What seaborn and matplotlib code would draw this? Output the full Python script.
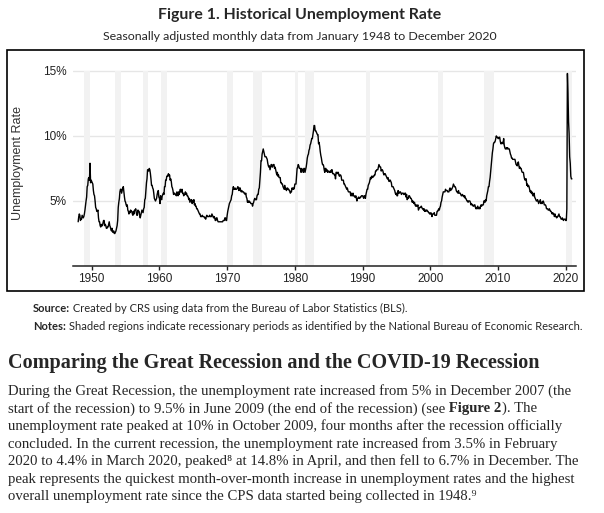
import pandas as pd
import seaborn as sns
import matplotlib.pyplot as plt
from matplotlib.patches import Rectangle

# Monthly unemployment rate (%), seasonally adjusted, Jan 1948 - Dec 2020
rate = [
    3.4, 3.8, 4.0, 3.9, 3.5, 3.6, 3.6, 3.9, 3.8, 3.7, 3.8, 4.0,   # 1948
    4.3, 4.7, 5.0, 5.3, 6.1, 6.2, 6.7, 6.8, 6.6, 7.9, 6.4, 6.6,   # 1949
    6.5, 6.4, 6.3, 5.8, 5.5, 5.4, 5.0, 4.5, 4.4, 4.2, 4.2, 4.3,   # 1950
    3.7, 3.4, 3.4, 3.1, 3.0, 3.2, 3.1, 3.1, 3.3, 3.5, 3.5, 3.1,   # 1951
    3.2, 3.1, 2.9, 2.9, 3.0, 3.0, 3.2, 3.4, 3.1, 3.0, 2.8, 2.7,   # 1952
    2.9, 2.6, 2.6, 2.7, 2.5, 2.5, 2.6, 2.7, 2.9, 3.1, 3.5, 4.5,   # 1953
    4.9, 5.2, 5.7, 5.9, 5.9, 5.6, 5.8, 6.0, 6.1, 5.7, 5.3, 5.0,   # 1954
    4.9, 4.7, 4.6, 4.7, 4.3, 4.2, 4.0, 4.2, 4.1, 4.3, 4.2, 4.2,   # 1955
    4.0, 3.9, 4.2, 4.0, 4.3, 4.3, 4.4, 4.1, 3.9, 3.9, 4.3, 4.2,   # 1956
    4.2, 3.9, 3.7, 3.9, 4.1, 4.3, 4.2, 4.1, 4.4, 4.5, 5.1, 5.2,   # 1957
    5.8, 6.4, 6.7, 7.4, 7.4, 7.3, 7.5, 7.4, 7.1, 6.7, 6.2, 6.2,   # 1958
    6.0, 5.9, 5.6, 5.2, 5.1, 5.0, 5.1, 5.2, 5.5, 5.7, 5.8, 5.3,   # 1959
    5.2, 4.8, 5.4, 5.2, 5.1, 5.4, 5.5, 5.6, 5.5, 6.1, 6.1, 6.6,   # 1960
    6.6, 6.9, 6.9, 7.0, 7.1, 6.9, 7.0, 6.6, 6.7, 6.5, 6.1, 6.0,   # 1961
    5.8, 5.5, 5.6, 5.6, 5.5, 5.5, 5.4, 5.7, 5.6, 5.4, 5.7, 5.5,   # 1962
    5.7, 5.9, 5.7, 5.7, 5.9, 5.6, 5.6, 5.4, 5.5, 5.5, 5.7, 5.5,   # 1963
    5.6, 5.4, 5.4, 5.3, 5.1, 5.2, 4.9, 5.0, 5.1, 5.1, 4.8, 5.0,   # 1964
    4.9, 5.1, 4.7, 4.8, 4.6, 4.6, 4.4, 4.4, 4.3, 4.2, 4.1, 4.0,   # 1965
    4.0, 3.8, 3.8, 3.8, 3.9, 3.8, 3.8, 3.8, 3.7, 3.7, 3.6, 3.8,   # 1966
    3.9, 3.8, 3.8, 3.8, 3.8, 3.9, 3.8, 3.8, 3.8, 4.0, 3.9, 3.8,   # 1967
    3.7, 3.8, 3.7, 3.5, 3.5, 3.7, 3.7, 3.5, 3.4, 3.4, 3.4, 3.4,   # 1968
    3.4, 3.4, 3.4, 3.4, 3.4, 3.5, 3.5, 3.5, 3.7, 3.7, 3.5, 3.5,   # 1969
    3.9, 4.2, 4.4, 4.6, 4.8, 4.9, 5.0, 5.1, 5.4, 5.5, 5.9, 6.1,   # 1970
    5.9, 5.9, 6.0, 5.9, 5.9, 5.9, 6.0, 6.1, 6.0, 5.8, 6.0, 6.0,   # 1971
    5.8, 5.7, 5.8, 5.7, 5.7, 5.7, 5.6, 5.6, 5.5, 5.6, 5.3, 5.2,   # 1972
    4.9, 5.0, 4.9, 5.0, 4.9, 4.9, 4.8, 4.8, 4.8, 4.6, 4.8, 4.9,   # 1973
    5.1, 5.2, 5.1, 5.1, 5.1, 5.4, 5.5, 5.5, 5.9, 6.0, 6.6, 7.2,   # 1974
    8.1, 8.1, 8.6, 8.8, 9.0, 8.8, 8.6, 8.4, 8.4, 8.4, 8.3, 8.2,   # 1975
    7.9, 7.7, 7.6, 7.7, 7.4, 7.6, 7.8, 7.8, 7.6, 7.7, 7.8, 7.8,   # 1976
    7.5, 7.6, 7.4, 7.2, 7.0, 7.2, 6.9, 7.0, 6.8, 6.8, 6.8, 6.4,   # 1977
    6.4, 6.3, 6.3, 6.1, 6.0, 5.9, 6.2, 5.9, 6.0, 5.8, 5.9, 6.0,   # 1978
    5.9, 5.9, 5.8, 5.8, 5.6, 5.7, 5.7, 6.0, 5.9, 6.0, 5.9, 6.0,   # 1979
    6.3, 6.3, 6.3, 6.9, 7.5, 7.6, 7.8, 7.7, 7.5, 7.5, 7.5, 7.2,   # 1980
    7.5, 7.4, 7.4, 7.2, 7.5, 7.5, 7.2, 7.4, 7.6, 7.9, 8.3, 8.5,   # 1981
    8.6, 8.9, 9.0, 9.3, 9.4, 9.6, 9.8, 9.8, 10.1, 10.4, 10.8, 10.8,  # 1982
    10.4, 10.4, 10.3, 10.2, 10.1, 10.1, 9.4, 9.5, 9.2, 8.8, 8.5, 8.3,  # 1983
    8.0, 7.8, 7.8, 7.7, 7.4, 7.2, 7.5, 7.5, 7.3, 7.4, 7.2, 7.3,   # 1984
    7.3, 7.2, 7.2, 7.3, 7.2, 7.4, 7.4, 7.1, 7.1, 7.1, 7.0, 7.0,   # 1985
    6.7, 7.2, 7.2, 7.1, 7.2, 7.2, 7.0, 6.9, 7.0, 7.0, 6.9, 6.6,   # 1986
    6.6, 6.6, 6.6, 6.3, 6.3, 6.2, 6.1, 6.0, 5.9, 6.0, 5.8, 5.7,   # 1987
    5.7, 5.7, 5.7, 5.4, 5.6, 5.4, 5.4, 5.6, 5.4, 5.4, 5.3, 5.3,   # 1988
    5.4, 5.2, 5.0, 5.2, 5.2, 5.3, 5.2, 5.2, 5.3, 5.3, 5.4, 5.4,   # 1989
    5.4, 5.3, 5.2, 5.4, 5.4, 5.2, 5.5, 5.7, 5.9, 5.9, 6.2, 6.3,   # 1990
    6.4, 6.6, 6.8, 6.7, 6.9, 6.9, 6.8, 6.9, 6.9, 7.0, 7.0, 7.3,   # 1991
    7.3, 7.4, 7.4, 7.4, 7.6, 7.8, 7.7, 7.6, 7.6, 7.3, 7.4, 7.4,   # 1992
    7.3, 7.1, 7.0, 7.1, 7.1, 7.0, 6.9, 6.8, 6.7, 6.8, 6.6, 6.5,   # 1993
    6.6, 6.6, 6.5, 6.4, 6.1, 6.1, 6.1, 6.0, 5.9, 5.8, 5.6, 5.5,   # 1994
    5.6, 5.4, 5.4, 5.8, 5.6, 5.6, 5.7, 5.7, 5.6, 5.5, 5.6, 5.6,   # 1995
    5.6, 5.5, 5.5, 5.6, 5.6, 5.3, 5.5, 5.1, 5.2, 5.2, 5.4, 5.4,   # 1996
    5.3, 5.2, 5.2, 5.1, 4.9, 5.0, 4.9, 4.8, 4.9, 4.7, 4.6, 4.7,   # 1997
    4.6, 4.6, 4.7, 4.3, 4.4, 4.5, 4.5, 4.5, 4.6, 4.5, 4.4, 4.4,   # 1998
    4.3, 4.4, 4.2, 4.3, 4.2, 4.3, 4.3, 4.2, 4.2, 4.1, 4.1, 4.0,   # 1999
    4.0, 4.1, 4.0, 3.8, 4.0, 4.0, 4.0, 4.1, 3.9, 3.9, 3.9, 3.9,   # 2000
    4.2, 4.2, 4.3, 4.4, 4.3, 4.5, 4.6, 4.9, 5.0, 5.3, 5.5, 5.7,   # 2001
    5.7, 5.7, 5.7, 5.9, 5.8, 5.8, 5.8, 5.7, 5.7, 5.7, 5.9, 6.0,   # 2002
    5.8, 5.9, 5.9, 6.0, 6.1, 6.3, 6.2, 6.1, 6.1, 6.0, 5.8, 5.7,   # 2003
    5.7, 5.6, 5.8, 5.6, 5.6, 5.6, 5.5, 5.4, 5.4, 5.5, 5.4, 5.4,   # 2004
    5.3, 5.4, 5.2, 5.2, 5.1, 5.0, 5.0, 4.9, 5.0, 5.0, 5.0, 4.9,   # 2005
    4.7, 4.8, 4.7, 4.7, 4.6, 4.6, 4.7, 4.7, 4.5, 4.4, 4.5, 4.4,   # 2006
    4.6, 4.5, 4.4, 4.5, 4.4, 4.6, 4.7, 4.6, 4.7, 4.7, 4.7, 5.0,   # 2007
    5.0, 4.9, 5.1, 5.0, 5.4, 5.6, 5.8, 6.1, 6.1, 6.5, 6.8, 7.3,   # 2008
    7.8, 8.3, 8.7, 9.0, 9.4, 9.5, 9.5, 9.6, 9.8, 10.0, 9.9, 9.9,  # 2009
    9.8, 9.8, 9.9, 9.9, 9.6, 9.4, 9.4, 9.5, 9.5, 9.4, 9.8, 9.3,   # 2010
    9.1, 9.0, 9.0, 9.1, 9.0, 9.1, 9.0, 9.0, 9.0, 8.8, 8.6, 8.5,   # 2011
    8.3, 8.3, 8.2, 8.2, 8.2, 8.2, 8.2, 8.0, 7.8, 7.8, 7.7, 7.9,   # 2012
    8.0, 7.7, 7.5, 7.6, 7.5, 7.5, 7.3, 7.2, 7.2, 7.2, 6.9, 6.7,   # 2013
    6.6, 6.7, 6.7, 6.2, 6.3, 6.1, 6.2, 6.1, 5.9, 5.7, 5.8, 5.6,   # 2014
    5.7, 5.5, 5.4, 5.4, 5.6, 5.3, 5.2, 5.1, 5.0, 5.0, 5.1, 5.0,   # 2015
    4.8, 4.9, 5.0, 5.1, 4.8, 4.9, 4.8, 4.9, 5.0, 4.9, 4.7, 4.7,   # 2016
    4.7, 4.6, 4.4, 4.4, 4.4, 4.3, 4.3, 4.4, 4.3, 4.2, 4.2, 4.1,   # 2017
    4.0, 4.1, 4.0, 4.0, 3.8, 4.0, 3.8, 3.8, 3.7, 3.8, 3.8, 3.9,   # 2018
    4.0, 3.8, 3.8, 3.7, 3.6, 3.6, 3.7, 3.6, 3.5, 3.6, 3.6, 3.6,   # 2019
    3.5, 3.5, 4.4, 14.8, 13.3, 11.1, 10.2, 8.4, 7.9, 6.9, 6.7, 6.7,  # 2020
]
first_month = "1948-01"

# NBER recessions (peak month, trough month)
rec_start = ["1948-11", "1953-07", "1957-08", "1960-04", "1969-12", "1973-11",
             "1980-01", "1981-07", "1990-07", "2001-03", "2007-12", "2020-02"]
rec_end = ["1949-10", "1954-05", "1958-04", "1961-02", "1970-11", "1975-03",
           "1980-07", "1982-11", "1991-03", "2001-11", "2009-06", "2020-12"]

xtick_years = [1950, 1960, 1970, 1980, 1990, 2000, 2010, 2020]
ytick_values = [5, 10, 15]

title = "Figure 1. Historical Unemployment Rate"
subtitle = "Seasonally adjusted monthly data from January 1948 to December 2020"
ylabel = "Unemployment Rate"
source = [("Source:", "bold"), (" Created by CRS using data from the Bureau of Labor Statistics (BLS).", "normal")]
notes = [("Notes:", "bold"), (" Shaded regions indicate recessionary periods as identified by the National Bureau of Economic Research.", "normal")]
heading = "Comparing the Great Recession and the COVID-19 Recession"
paragraph = [
    [("During the Great Recession, the unemployment rate increased from 5% in December 2007 (the", "normal")],
    [("start of the recession) to 9.5% in June 2009 (the end of the recession) (see", "normal"),
     (" Figure 2", "bold"), ("). The", "normal")],
    [("unemployment rate peaked at 10% in October 2009, four months after the recession officially", "normal")],
    [("concluded. In the current recession, the unemployment rate increased from 3.5% in February", "normal")],
    [("2020 to 4.4% in March 2020, peaked\u2078 at 14.8% in April, and then fell to 6.7% in December. The", "normal")],
    [("peak represents the quickest month-over-month increase in unemployment rates and the highest", "normal")],
    [("overall unemployment rate since the CPS data started being collected in 1948.\u2079", "normal")],
]

df = pd.DataFrame({"date": pd.date_range(first_month, periods=len(rate), freq="MS"),
                   "rate": rate})

sns.set_theme(style="white")
plt.rcParams["font.family"] = ["Liberation Sans", "DejaVu Sans"]

W, H = 604, 513
fig = plt.figure(figsize=(W / 100, H / 100), dpi=100)
renderer = fig.canvas.get_renderer()


def px(x, y):
    return x / W, 1 - y / H


def width_of(t):
    return t.get_window_extent(renderer).width


def put(x, y, s, width=None, **kw):
    t = fig.text(*px(x, y), s, **kw)
    if width:
        t.set_fontsize(t.get_fontsize() * width / width_of(t))
    return t


def put_runs(x, y, runs, **kw):
    # pieces with different weights, one after the other
    for s, weight in runs:
        t = fig.text(*px(x, y), s, fontweight=weight, **kw)
        x += width_of(t)


def fit_size(s, width, **kw):
    t = fig.text(0, 0, s, fontsize=10, **kw)
    size = 10 * width / width_of(t)
    t.remove()
    return size


# chart
ax = fig.add_axes([73 / W, 1 - 266 / H, 503 / W, (266 - 67) / H])
top = 15.3
for s, e in zip(rec_start, rec_end):
    ax.axvspan(pd.Timestamp(s), pd.Timestamp(e), ymin=0, ymax=15 / top,
               color="#f2f2f2", lw=0, zorder=1)
sns.lineplot(data=df, x="date", y="rate", color="black", lw=1.0, ax=ax, zorder=3)

ax.set_xlim(pd.Timestamp("1947-03-28"), pd.Timestamp("2021-07-08"))
ax.set_ylim(0, top)
ax.set_xticks([pd.Timestamp(f"{y}-01-01") for y in xtick_years])
ax.set_xticklabels([str(y) for y in xtick_years])
ax.set_yticks(ytick_values)
ax.set_yticklabels([f"{v}%" for v in ytick_values])
ax.set_xlabel("")
ax.set_ylabel("")
ax.yaxis.grid(True, color="#e6e6e6", lw=1)
ax.set_axisbelow(True)
for side in ["left", "top", "right"]:
    ax.spines[side].set_visible(False)
ax.spines["bottom"].set_color("#222222")
ax.spines["bottom"].set_linewidth(1.1)
ax.tick_params(axis="y", length=0, pad=4.5, labelsize=8.5, labelcolor="#222222")
ax.tick_params(axis="x", length=3, width=1, color="#222222", pad=2,
               labelsize=8.5, labelcolor="#222222", bottom=True)

put(18, 163, ylabel, rotation=90, ha="center", va="center", fontsize=9, color="#333333")

# frame around the figure
fig.patches.append(Rectangle(px(7, 291), 577 / W, 241 / H, transform=fig.transFigure,
                             fill=False, ec="black", lw=1.2, figure=fig))

# titles
put(300, 15, title, width=281, ha="center", va="center", family="Lato", fontweight="bold")
put(300, 36, subtitle, width=395, ha="center", va="center", family="Lato")

# source and notes
small = fit_size(notes[0][0] + notes[1][0], 548, family="Lato")
put_runs(33, 308, source, fontsize=small, family="Lato", va="center")
put_runs(33, 326, notes, fontsize=small, family="Lato", va="center")

# heading and body text
put(8, 363, heading, width=528, va="center", family="Liberation Serif", fontweight="bold")
body = fit_size(paragraph[0][0][0], 561, family="Liberation Serif")
for i, runs in enumerate(paragraph):
    put_runs(8, 391 + 17.6 * i, runs, fontsize=body,
             family=["Liberation Serif", "DejaVu Serif"], va="center")

fig.savefig("out.png", dpi=100)
